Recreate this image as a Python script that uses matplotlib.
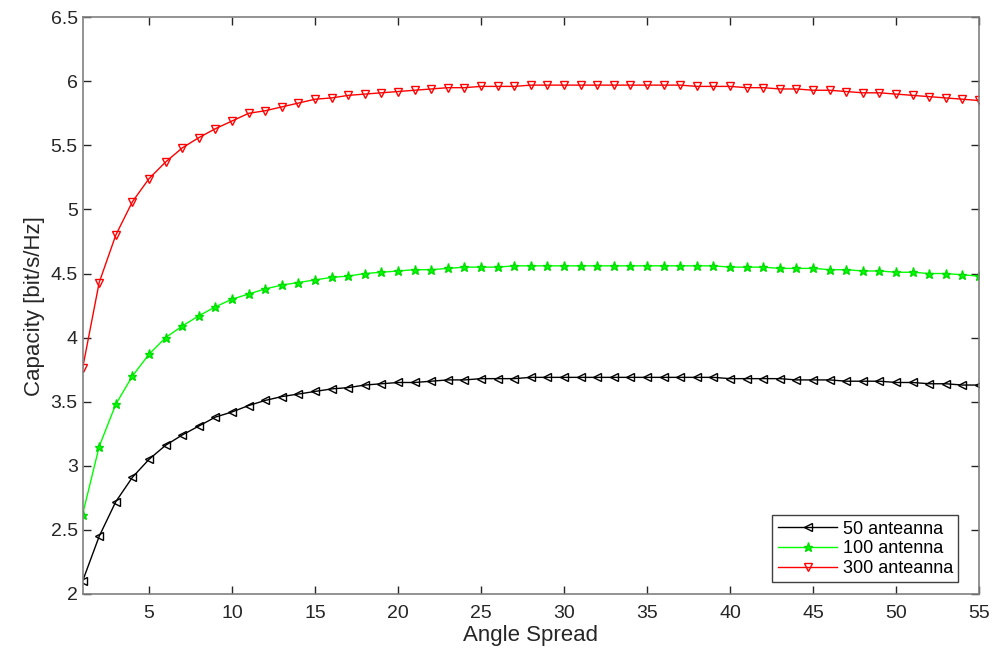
import numpy as np
import matplotlib
matplotlib.use('Agg')
import matplotlib.pyplot as plt

plt.rcParams['font.family'] = ['Liberation Sans', 'DejaVu Sans']

# angle spread values
angle = np.arange(1, 56)

cap_50 = [2.10, 2.45, 2.72, 2.91, 3.05, 3.16, 3.24, 3.31, 3.38, 3.42, 3.47, 3.51, 3.54,
          3.56, 3.58, 3.60, 3.61, 3.63, 3.64, 3.65, 3.65, 3.66, 3.67, 3.67, 3.68, 3.68,
          3.68, 3.69, 3.69, 3.69, 3.69, 3.69, 3.69, 3.69,
          3.69, 3.69, 3.69, 3.69, 3.69, 3.68, 3.68, 3.68, 3.68, 3.67, 3.67, 3.67, 3.66,
          3.66, 3.66, 3.65, 3.65, 3.64, 3.64, 3.63, 3.63]

cap_100 = [2.62, 3.15, 3.48, 3.70, 3.87, 4.00, 4.09, 4.17, 4.24, 4.30, 4.34, 4.38, 4.41,
           4.43, 4.45, 4.47, 4.48, 4.50, 4.51, 4.52, 4.53, 4.53, 4.54, 4.55, 4.55, 4.55,
           4.56, 4.56, 4.56, 4.56, 4.56, 4.56, 4.56, 4.56,
           4.56, 4.56, 4.56, 4.56, 4.56, 4.55, 4.55, 4.55, 4.54, 4.54, 4.54, 4.53, 4.53,
           4.52, 4.52, 4.51, 4.51, 4.50, 4.50, 4.49, 4.48]

cap_300 = [3.76, 4.43, 4.80, 5.06, 5.24, 5.37, 5.48, 5.56, 5.63, 5.69, 5.75, 5.77, 5.80,
           5.83, 5.86, 5.87, 5.89, 5.90, 5.91, 5.92, 5.93, 5.94, 5.95, 5.95, 5.96, 5.96,
           5.96, 5.97, 5.97, 5.97, 5.97, 5.97, 5.97, 5.97,
           5.97, 5.97, 5.97, 5.96, 5.96, 5.96, 5.95, 5.95, 5.94, 5.94, 5.93, 5.93, 5.92,
           5.91, 5.91, 5.90, 5.89, 5.88, 5.87, 5.86, 5.85]

fig = plt.figure(figsize=(9.95, 6.51), dpi=100)
ax = fig.add_axes([0.083, 0.0876, 0.901, 0.886])

ax.plot(angle, cap_50, color='black', lw=1, marker='<', ms=6,
        mfc='none', mec='black', mew=1, label='50 anteanna')
ax.plot(angle, cap_100, color='#00ff00', lw=1, marker='*', ms=6.5,
        mfc='#00ff00', mec='#00dd00', label='100 antenna')
ax.plot(angle, cap_300, color='red', lw=1, marker='v', ms=6,
        mfc='none', mec='red', mew=1, label='300 anteanna')

ax.set_xlim(1, 55)
ax.set_ylim(2, 6.5)
ax.set_xticks(np.arange(5, 56, 5))
ax.set_yticks(np.arange(2, 6.51, 0.5))
ax.set_yticklabels(['2', '2.5', '3', '3.5', '4', '4.5', '5', '5.5', '6', '6.5'])

ax.set_xlabel('Angle Spread', fontsize=16, color='#262626', labelpad=2)
ax.set_ylabel('Capacity [bit/s/Hz]', fontsize=16, color='#262626', labelpad=4)

ax.tick_params(direction='in', length=6, width=1, colors='#262626',
               labelsize=14, top=True, right=True)
ax.tick_params(axis='x', pad=8)
for sp in ax.spines.values():
    sp.set_color('#808080')
    sp.set_linewidth(1.2)

leg = ax.legend(loc='lower right', bbox_to_anchor=(0.977, 0.02), fontsize=13,
                handlelength=3.3, borderpad=0.3, labelspacing=0.15, handletextpad=0.3,
                fancybox=False, framealpha=1, borderaxespad=0)
leg.get_frame().set_edgecolor('#404040')
leg.get_frame().set_linewidth(1)

fig.savefig('out.png', dpi=100)
